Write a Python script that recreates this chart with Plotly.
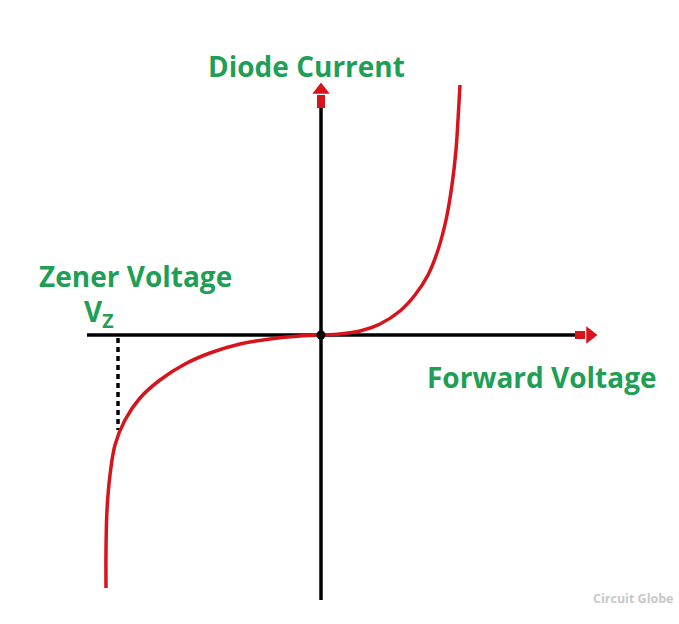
import plotly.graph_objects as go

# Diode characteristic (arbitrary units, origin at the axes crossing)
voltage = [-215, -215, -214, -211, -206, -196, -181, -161, -136, -111, -81, -51, -21,
           0, 19, 39, 59, 79, 94, 107, 117, 125, 131, 135, 137, 139]
current = [-253, -215, -175, -140, -110, -85, -63, -45, -29, -18, -9, -4, -1,
           0, 1, 4, 11, 24, 40, 60, 85, 115, 150, 185, 215, 250]

zener_voltage = -203
zener_current = -95

x_axis_span = [-234, 254]
y_axis_span = [-265, 227]

GREEN = "#1f9e55"
RED = "#d7141c"
FONT = "Open Sans"

fig = go.Figure()

# axes
fig.add_trace(go.Scatter(x=x_axis_span, y=[0, 0], mode="lines",
                         line=dict(color="black", width=3.5), hoverinfo="skip"))
fig.add_trace(go.Scatter(x=[0, 0], y=y_axis_span, mode="lines",
                         line=dict(color="black", width=3.5), hoverinfo="skip"))
# red arrow shafts
fig.add_trace(go.Scatter(x=[x_axis_span[1], x_axis_span[1] + 10], y=[0, 0], mode="lines",
                         line=dict(color=RED, width=8), hoverinfo="skip"))
fig.add_trace(go.Scatter(x=[0, 0], y=[y_axis_span[1], y_axis_span[1] + 13], mode="lines",
                         line=dict(color=RED, width=8), hoverinfo="skip"))
# arrow heads
fig.add_trace(go.Scatter(x=[x_axis_span[1] + 15], y=[0], mode="markers",
                         marker=dict(symbol="triangle-right", size=15, color=RED), hoverinfo="skip"))
fig.add_trace(go.Scatter(x=[0], y=[y_axis_span[1] + 18], mode="markers",
                         marker=dict(symbol="triangle-up", size=15, color=RED), hoverinfo="skip"))

# zener dashed line
fig.add_trace(go.Scatter(x=[zener_voltage, zener_voltage], y=[-3, zener_current], mode="lines",
                         line=dict(color="black", width=3.5, dash="5px,4px"), hoverinfo="skip"))

# curve
fig.add_trace(go.Scatter(x=voltage, y=current, mode="lines", line_shape="spline",
                         line=dict(color=RED, width=3.5), hoverinfo="skip"))

# origin dot
fig.add_trace(go.Scatter(x=[0], y=[0], mode="markers",
                         marker=dict(color="black", size=9), hoverinfo="skip"))

LABEL = dict(family=FONT, size=28, color=GREEN)
fig.add_annotation(x=-15, y=269, text="<b>Diode Current</b>", showarrow=False,
                   font=LABEL, xanchor="center", yanchor="middle")
fig.add_annotation(x=-284, y=59, text="<b>Zener Voltage</b>", showarrow=False,
                   font=LABEL, xanchor="left", yanchor="middle")
fig.add_annotation(x=-239, y=22, text="<b>V<sub>Z</sub></b>", showarrow=False,
                   font=LABEL, xanchor="left", yanchor="middle")
fig.add_annotation(x=104, y=-42, text="<b>Forward Voltage</b>", showarrow=False,
                   font=LABEL, xanchor="left", yanchor="middle")
fig.add_annotation(x=312, y=-263, text="<b>Circuit Globe</b>", showarrow=False,
                   font=dict(family=FONT, size=12.5, color="#c8c8c8"), xanchor="center", yanchor="middle")

fig.update_layout(
    width=679, height=624,
    margin=dict(l=0, r=0, t=0, b=0),
    paper_bgcolor="white", plot_bgcolor="white",
    showlegend=False,
    xaxis=dict(range=[-321, 358], visible=False, fixedrange=True),
    yaxis=dict(range=[-289, 335], visible=False, fixedrange=True),
)

fig.write_html("out.html", config={"displayModeBar": False},
               post_script="document.body.style.margin='0';")
